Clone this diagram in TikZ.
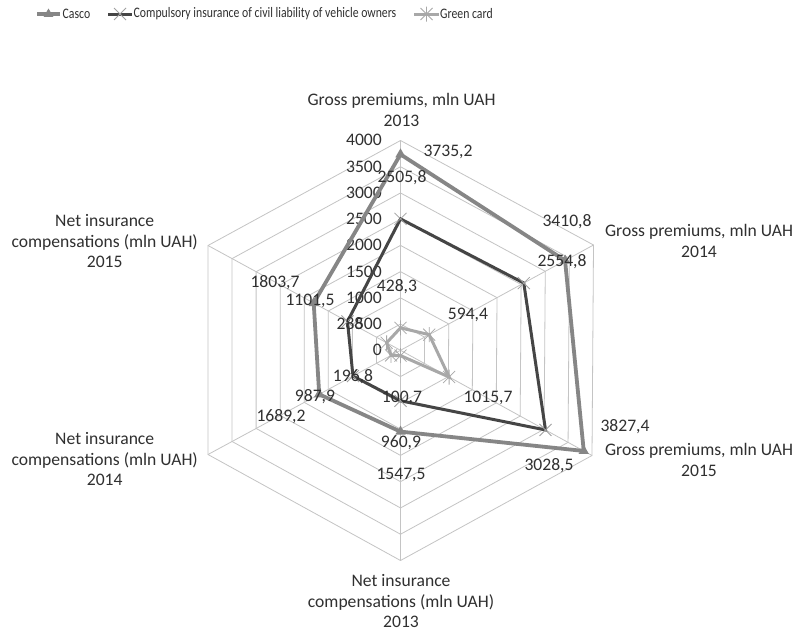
\documentclass[tikz,border=0pt]{standalone}
\usepackage{fontspec}
\setmainfont{Carlito}
\usetikzlibrary{calc,shapes.geometric}
\definecolor{gridc}{HTML}{C4C4C4}
\definecolor{cascoc}{HTML}{868686}
\definecolor{compc}{HTML}{454545}
\definecolor{greenc}{HTML}{A8A8A8}
\definecolor{xmarkc}{HTML}{A0A0A0}
\definecolor{txtc}{HTML}{303030}
\newcommand{\legtxt}[1]{\scalebox{0.81}[1]{\fontsize{14.5}{16}\selectfont #1}}
\begin{document}
\begin{tikzpicture}[x=1pt,y=-1pt,
  gridline/.style={draw=gridc, line width=0.8pt},
  lab/.style={font=\fontsize{17.6}{20.5}\selectfont, text=txtc, inner sep=0, align=center},
  val/.style={font=\fontsize{17.6}{20}\selectfont, text=txtc, inner sep=0},
  legt/.style={text=txtc, inner sep=0, anchor=west},
  casco/.style={draw=cascoc, line width=3.8pt, line join=miter},
  comp/.style={draw=compc, line width=3pt, line join=miter},
  greenline/.style={draw=greenc, line width=3pt, line join=miter},
  tri/.style={regular polygon, regular polygon sides=3, fill=cascoc, draw=none, inner sep=0, minimum size=12pt},
  xmk/.pic={\draw[xmarkc, line width=0.8pt] (-6,-6)--(6,6) (-6,6)--(6,-6);},
  astmk/.pic={\draw[greenc, line width=0.8pt] (-6,-6)--(6,6) (-6,6)--(6,-6) (0,-7.5)--(0,7.5);}
]
\path[use as bounding box, fill=white] (0,0) rectangle (799,632);

% geometry
\coordinate (C) at (400.5,350.3);
\coordinate (V0) at (400.5,140.5);
\coordinate (V1) at (593.5,245);
\coordinate (V2) at (592,455.5);
\coordinate (V3) at (400.5,560.5);
\coordinate (V4) at (208,454.5);
\coordinate (V5) at (208,245.5);

% grid
\foreach \k in {1,...,8}
  \draw[gridline] ($(C)!\k/8!(V0)$) -- ($(C)!\k/8!(V1)$) -- ($(C)!\k/8!(V2)$) -- ($(C)!\k/8!(V3)$) -- ($(C)!\k/8!(V4)$) -- ($(C)!\k/8!(V5)$) -- cycle;
\foreach \i in {0,...,5}
  \draw[gridline] (C) -- (V\i);

% tick labels
\foreach \t [count=\k from 0] in {0,500,1000,1500,2000,2500,3000,3500,4000}
  \node[val, anchor=east] (t\k) at (382,{350.3-26.25*\k}) {\t};

% data points
\foreach \v [count=\i from 0] in {3735.2,3410.8,3827.4,1547.5,1689.2,1803.7}
  \coordinate (c\i) at ($(C)!\v/4000!(V\i)$);
\foreach \v [count=\i from 0] in {2505.8,2554.8,3028.5,960.9,987.9,1101.5}
  \coordinate (k\i) at ($(C)!\v/4000!(V\i)$);
\foreach \v [count=\i from 0] in {428.3,594.4,1015.7,100.7,196.8,288}
  \coordinate (g\i) at ($(C)!\v/4000!(V\i)$);

% series
\draw[casco] (c0) -- (c1) -- (c2) -- (c3) -- (c4) -- (c5) -- cycle;
\foreach \i in {0,...,5} \node[tri] (mc\i) at (c\i) {};
\draw[comp] (k0) -- (k1) -- (k2) -- (k3) -- (k4) -- (k5) -- cycle;
\foreach \i in {0,...,5} \pic at (k\i) {xmk};
\draw[greenline] (g0) -- (g1) -- (g2) -- (g3) -- (g4) -- (g5) -- cycle;
\foreach \i in {0,...,5} \pic at (g\i) {astmk};

% value labels
\node[val] (lc0) at (448,152) {3735,2};
\node[val] (lk0) at (402,178) {2505,8};
\node[val] (lg0) at (397,287) {428,3};
\node[val] (lc1) at (567,222) {3410,8};
\node[val] (lk1) at (562,262) {2554,8};
\node[val] (lg1) at (468,315) {594,4};
\node[val] (lc2) at (625,427) {3827,4};
\node[val] (lk2) at (549,466) {3028,5};
\node[val] (lg2) at (488,398) {1015,7};
\node[val] (lk3) at (401,443) {960,9};
\node[val] (lc3) at (401,475) {1547,5};
\node[val] (lg3) at (402,398) {100,7};
\node[val] (lk4) at (315,397) {987,9};
\node[val] (lc4) at (281,417) {1689,2};
\node[val] (lg4) at (353,377) {196,8};
\node[val] (lc5) at (275,283) {1803,7};
\node[val] (lk5) at (310,301) {1101,5};
\node[val] (lg5) at (350,324) {288};

% category labels
\node[lab] (cat0) at (401.5,110) {Gross premiums, mln UAH\\2013};
\node[lab] (cat1) at (699,241) {Gross premiums, mln UAH\\2014};
\node[lab] (cat2) at (699,460) {Gross premiums, mln UAH\\2015};
\node[lab] (cat3) at (401,601) {Net insurance\\compensations (mln UAH)\\2013};
\node[lab] (cat4) at (104.7,459) {Net insurance\\compensations (mln UAH)\\2014};
\node[lab] (cat5) at (104.7,241) {Net insurance\\compensations (mln UAH)\\2015};

% legend
\coordinate (la1) at (37,14);
\coordinate (la2) at (60,14);
\draw[casco] (la1) -- (la2);
\node[tri, minimum size=11pt] (lm1) at (48.5,14) {};
\node[legt] (lt1) at (62.5,14) {\legtxt{Casco}};
\coordinate (lb1) at (108,14);
\coordinate (lb2) at (132,14);
\draw[comp] (lb1) -- (lb2);
\pic at (120,14) {xmk};
\node[legt] (lt2) at (133.5,14) {\legtxt{Compulsory insurance of civil liability of vehicle owners}};
\coordinate (lc1) at (414,14);
\coordinate (lc2) at (439,14);
\draw[greenline] (lc1) -- (lc2);
\pic at (426.5,14) {astmk};
\node[legt] (lt3) at (440,14) {\legtxt{Green card}};
\end{tikzpicture}
\end{document}
